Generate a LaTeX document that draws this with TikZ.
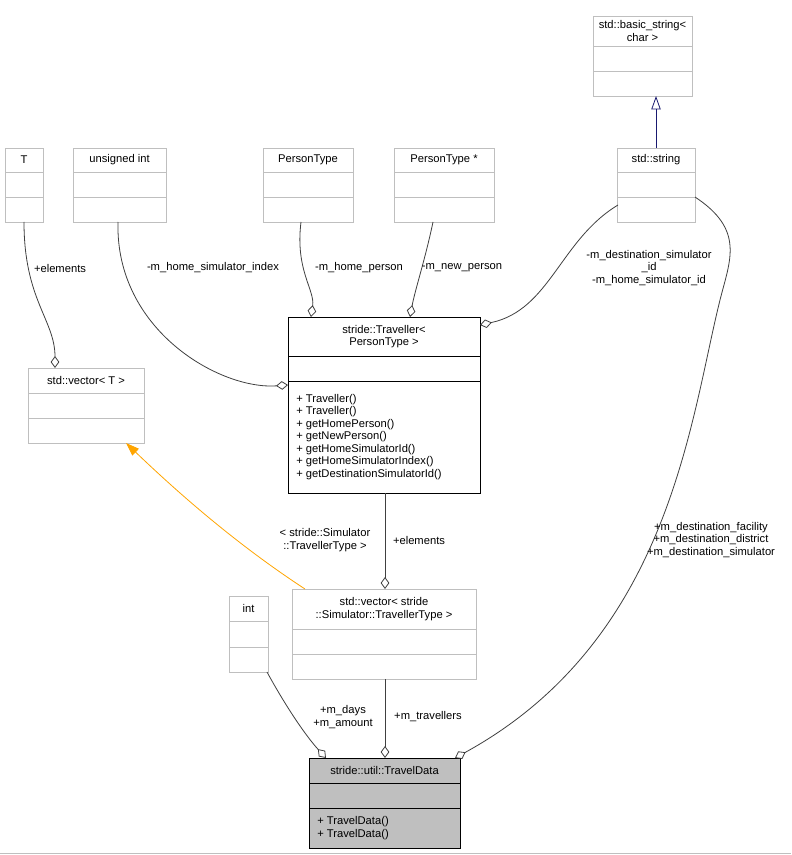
\documentclass[tikz,border=0pt]{standalone}
\usepackage{fontspec}
\setmainfont{Liberation Sans}
\usetikzlibrary{arrows.meta}
\definecolor{boxgray}{RGB}{191,191,191}
\definecolor{fillgray}{RGB}{191,191,191}
\definecolor{edgegray}{RGB}{64,64,64}
\definecolor{inheritblue}{RGB}{25,25,112}
\definecolor{tmplorange}{RGB}{255,165,0}
% Klassenkasten: Name, x1, y1, x2, y2, Trennlinie 1, Trennlinie 2, Titel, Methoden
\newcommand{\classbox}[9]{%
  \draw[boxstyle] (#2,#3) rectangle (#4,#5);
  \draw[boxstyle] (#2,#6) -- (#4,#6) (#2,#7) -- (#4,#7);
  \node[txt, align=center] (#1) at ({(#2+#4)/2},{(#3+#6)/2}) {#8};
  \node[txt, align=left, anchor=west] (#1m) at (#2+8,{(#7+#5)/2}) {#9};
}
\tikzset{
  boxstyle/.style={draw=boxgray, line width=0.6pt},
  txt/.style={font=\fontsize{8.4pt}{9.4pt}\selectfont, inner sep=0pt},
  lbl/.style={txt, align=center},
  member/.style={edgegray, line width=0.6pt, -{Diamond[open, length=9pt, width=6.5pt]}},
}
\begin{document}
\begin{tikzpicture}[x=0.75pt, y=-0.75pt]
  \useasboundingbox (0,0) rectangle (791,855);
  \fill[white] (0,0) rectangle (791,855);
  \draw[boxgray, line width=0.5pt] (0,853) -- (791,853);

  % Kaesten
  \classbox{bstr}{593}{16}{692}{96}{46}{71}{std::basic\_string<\\char >}{}
  \classbox{str}{617}{148}{695}{222}{172}{197}{std::string}{}
  \classbox{T}{5}{148}{43}{222}{172}{197}{T}{}
  \classbox{uint}{73}{148}{166}{222}{172}{197}{unsigned int}{}
  \classbox{ptype}{263}{148}{353}{222}{172}{197}{PersonType}{}
  \classbox{pptr}{394}{148}{494}{222}{172}{197}{PersonType *}{}
  \classbox{vecT}{28}{368}{144}{443}{393}{418}{std::vector< T >}{}
  \classbox{int}{229}{596}{268}{672}{621}{647}{int}{}
  \classbox{vecS}{292}{589}{476}{679}{629}{654}{std::vector< stride\\::Simulator::TravellerType >}{}
  \begin{scope}[boxstyle/.style={draw=black, line width=0.75pt}]
    \classbox{trav}{288}{317}{480}{493}{356}{381}{stride::Traveller<\\PersonType >}%
      {+ Traveller()\\+ Traveller()\\+ getHomePerson()\\+ getNewPerson()\\+ getHomeSimulatorId()\\+ getHomeSimulatorIndex()\\+ getDestinationSimulatorId()}
  \end{scope}
  \fill[fillgray] (309,758) rectangle (460,848);
  \begin{scope}[boxstyle/.style={draw=black, line width=0.75pt}]
    \classbox{td}{309}{758}{460}{848}{783}{808}{stride::util::TravelData}{+ TravelData()\\+ TravelData()}
  \end{scope}

  % Verbindungen
  \coordinate (Tb) at (24,222);   \coordinate (vecTt) at (55,368);
  \draw[member] (Tb) .. controls (24,300) and (55,320) .. (vecTt);
  \coordinate (uintb) at (118,222); \coordinate (travl) at (288,385);
  \draw[member] (uintb) .. controls (115,330) and (220,390) .. (travl);
  \coordinate (ptypeb) at (301,222); \coordinate (travt1) at (311,317);
  \draw[member] (ptypeb) .. controls (295,270) and (315,290) .. (travt1);
  \coordinate (pptrb) at (433,222); \coordinate (travt2) at (410,317);
  \draw[member] (pptrb) .. controls (425,260) and (415,290) .. (travt2);
  \coordinate (strl) at (618,205); \coordinate (travr) at (480,325);
  \draw[member] (strl) .. controls (560,240) and (550,310) .. (travr);
  \coordinate (strr) at (695,197); \coordinate (tdt3) at (455,758);
  \draw[member] (strr) .. controls (745,230) and (730,260) .. (720,300)
    .. controls (690,420) and (670,640) .. (tdt3);
  \coordinate (strt) at (656,148); \coordinate (bstrb) at (656,96);
  \draw[inheritblue, line width=0.6pt, -{Triangle[open, length=10pt, width=7pt]}] (strt) -- (bstrb);
  \coordinate (travb) at (385,493); \coordinate (vecSt) at (385,589);
  \draw[member] (travb) -- (vecSt);
  \coordinate (vecSl) at (305,589); \coordinate (vecTb) at (126,443);
  \draw[tmplorange, line width=0.6pt, -{Triangle[length=10pt, width=7pt]}] (vecSl) .. controls (230,540) and (170,485) .. (vecTb);
  \coordinate (intb) at (267,672); \coordinate (tdt1) at (326,758);
  \draw[member] (intb) .. controls (285,705) and (305,735) .. (tdt1);
  \coordinate (vecSb) at (385,679); \coordinate (tdt2) at (385,758);
  \draw[member] (vecSb) -- (tdt2);

  % Beschriftungen
  \node[lbl] (lelem) at (60,268) {+elements};
  \node[lbl] (lhsi) at (213,268) {-m\_home\_simulator\_index};
  \node[lbl] (lhp) at (359,268) {-m\_home\_person};
  \node[lbl] (lnp) at (462,268) {-m\_new\_person};
  \node[lbl] (ldest) at (649,268) {-m\_destination\_simulator\\\_id\\-m\_home\_simulator\_id};
  \node[lbl] (lfac) at (711,540) {+m\_destination\_facility\\+m\_destination\_district\\+m\_destination\_simulator};
  \node[lbl] (lelem2) at (419,540) {+elements};
  \node[lbl] (ltmpl) at (325,540) {< stride::Simulator\\::TravellerType >};
  \node[lbl] (ldays) at (343,717) {+m\_days\\+m\_amount};
  \node[lbl] (ltrav) at (428,717) {+m\_travellers};
\end{tikzpicture}
\end{document}
